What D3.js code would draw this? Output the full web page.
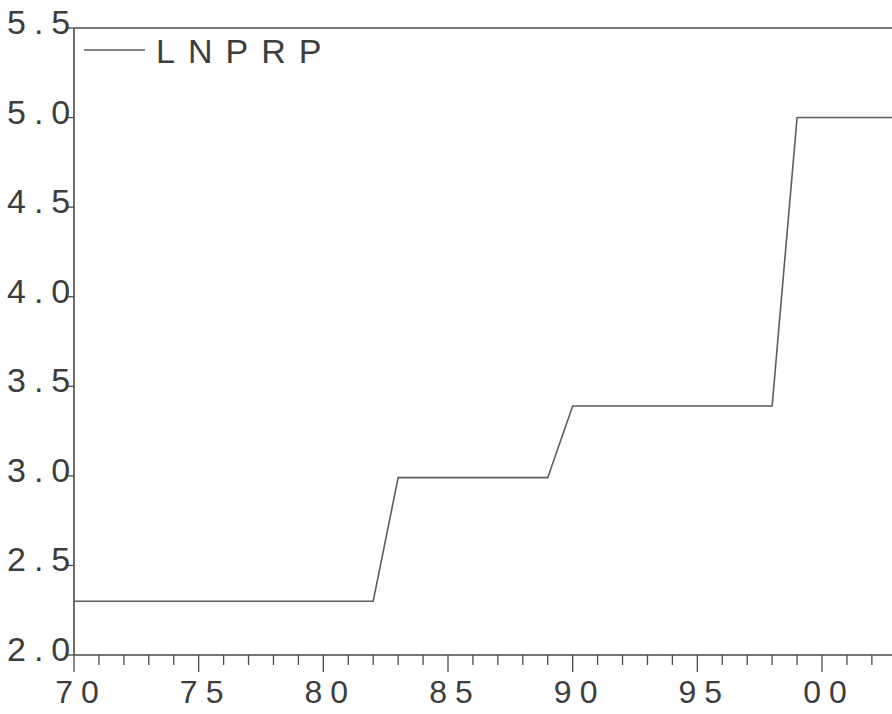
<!DOCTYPE html>
<html>
<head>
<meta charset="utf-8">
<script src="https://cdn.jsdelivr.net/npm/d3@7"></script>
<style>
  html, body { margin: 0; padding: 0; background: #ffffff; }
  svg { display: block; }
  text { font-family: "Liberation Sans", Arial, sans-serif; fill: #3d3d3d; }
</style>
</head>
<body>
<svg id="chart" width="892" height="714"></svg>
<script>
// Annual series LNPRP, 1970–2003
const years = d3.range(1970, 2004);
const lnprp = [
  2.30, 2.30, 2.30, 2.30, 2.30, 2.30, 2.30, 2.30, 2.30, 2.30, 2.30, 2.30, 2.30, // 1970–1982
  2.99, 2.99, 2.99, 2.99, 2.99, 2.99, 2.99,                                     // 1983–1989
  3.39, 3.39, 3.39, 3.39, 3.39, 3.39, 3.39, 3.39, 3.39,                         // 1990–1998
  5.00, 5.00, 5.00, 5.00, 5.00                                                  // 1999–2003
];
const yTicks = [2.0, 2.5, 3.0, 3.5, 4.0, 4.5, 5.0, 5.5];
const xMajor = [1970, 1975, 1980, 1985, 1990, 1995, 2000];
const seriesName = "LNPRP";

const svg = d3.select("#chart");
const plotLeft = 74, plotTop = 28, plotBottom = 655;

const x = d3.scaleLinear().domain([1970, 2000]).range([plotLeft, 822]);
const y = d3.scaleLinear().domain([2.0, 5.5]).range([plotBottom, plotTop]);

const axisColor = "#4a4a4a";
const lineColor = "#5e5e5e";

// frame: top edge across the full width
svg.append("line")
  .attr("x1", plotLeft).attr("x2", 892)
  .attr("y1", plotTop).attr("y2", plotTop)
  .attr("stroke", axisColor).attr("stroke-width", 1.6);

// x axis: minor tick every year, longer tick every five years
const xAxis = svg.append("g");
xAxis.append("line")
  .attr("x1", plotLeft).attr("x2", 892)
  .attr("y1", plotBottom).attr("y2", plotBottom)
  .attr("stroke", axisColor).attr("stroke-width", 1.6);
xAxis.selectAll("line.tick")
  .data(years)
  .join("line")
  .attr("class", "tick")
  .attr("x1", d => x(d)).attr("x2", d => x(d))
  .attr("y1", plotBottom)
  .attr("y2", d => plotBottom + (d % 5 === 0 ? 17 : 10))
  .attr("stroke", axisColor).attr("stroke-width", 1.3);
xAxis.selectAll("text")
  .data(xMajor)
  .join("text")
  .attr("x", d => x(d) + 7)
  .attr("y", 703)
  .attr("text-anchor", "middle")
  .attr("font-size", 32)
  .attr("letter-spacing", 8)
  .text(d => String(d % 100).padStart(2, "0"));

// y axis with outward ticks
const yAxis = svg.append("g");
yAxis.append("line")
  .attr("x1", plotLeft).attr("x2", plotLeft)
  .attr("y1", plotTop).attr("y2", plotBottom)
  .attr("stroke", axisColor).attr("stroke-width", 1.6);
yAxis.selectAll("line.tick")
  .data(yTicks)
  .join("line")
  .attr("class", "tick")
  .attr("x1", plotLeft - 8).attr("x2", plotLeft)
  .attr("y1", d => y(d)).attr("y2", d => y(d))
  .attr("stroke", axisColor).attr("stroke-width", 1.3);
yAxis.selectAll("text")
  .data(yTicks)
  .join("text")
  .attr("x", 7)
  .attr("y", d => y(d) + 6)
  .attr("text-anchor", "start")
  .attr("font-size", 34)
  .attr("letter-spacing", 8)
  .text(d => d.toFixed(1));

// data line
const line = d3.line()
  .x((d, i) => x(years[i]))
  .y(d => y(d));
svg.append("path")
  .datum(lnprp)
  .attr("d", line)
  .attr("fill", "none")
  .attr("stroke", lineColor)
  .attr("stroke-width", 1.6)
  .attr("stroke-linejoin", "miter");

// legend
const legend = svg.append("g");
legend.append("line")
  .attr("x1", 84).attr("x2", 145)
  .attr("y1", 50).attr("y2", 50)
  .attr("stroke", lineColor).attr("stroke-width", 1.4);
legend.append("text")
  .attr("x", 156)
  .attr("y", 63)
  .attr("font-size", 34)
  .attr("letter-spacing", 13)
  .text(seriesName);
</script>
</body>
</html>
